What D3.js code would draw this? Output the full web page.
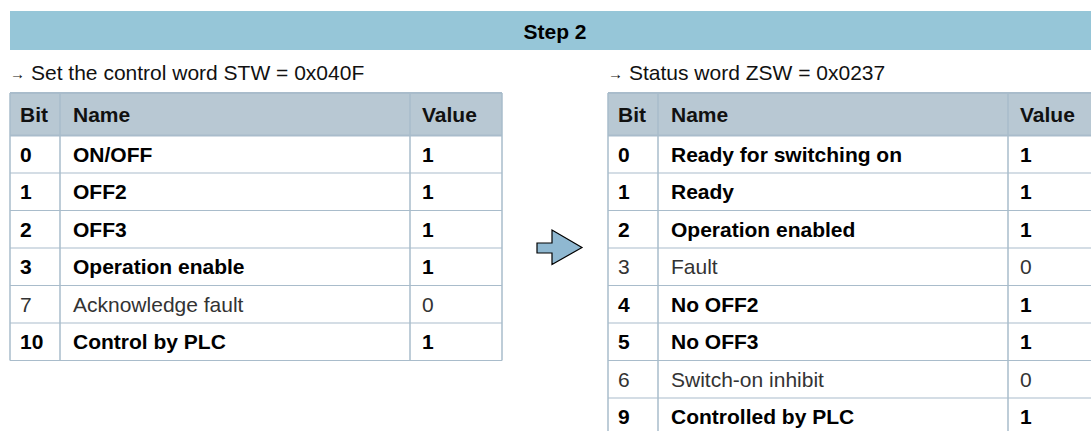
<!DOCTYPE html>
<html><head><meta charset="utf-8">
<script src="https://cdn.jsdelivr.net/npm/d3@7"></script>
<style>body{margin:0;background:#fff}svg{display:block}</style>
</head><body>
<svg id="c" width="1091" height="431"></svg>
<script>
const title = "Step 2";
const leftCaption = "Set the control word STW = 0x040F";
const rightCaption = "Status word ZSW = 0x0237";
const headers = ["Bit", "Name", "Value"];
const leftBits = ["0", "1", "2", "3", "7", "10"];
const leftNames = ["ON/OFF", "OFF2", "OFF3", "Operation enable", "Acknowledge fault", "Control by PLC"];
const leftValues = [1, 1, 1, 1, 0, 1];
const rightBits = ["0", "1", "2", "3", "4", "5", "6", "9"];
const rightNames = ["Ready for switching on", "Ready", "Operation enabled", "Fault", "No OFF2", "No OFF3", "Switch-on inhibit", "Controlled by PLC"];
const rightValues = [1, 1, 1, 0, 1, 1, 0, 1];

const svg = d3.select("#c");
const font = "'Liberation Sans', Arial, sans-serif";
const border = "#a9bccb";
const fs = 21;

// banner
svg.append("rect").attr("x", 10).attr("y", 11).attr("width", 1081).attr("height", 39).attr("fill", "#96c6d8");
svg.append("text").attr("x", 555).attr("y", 39).attr("text-anchor", "middle")
  .attr("font-family", font).attr("font-size", fs).attr("font-weight", "bold").attr("fill", "#000").text(title);

function drawTable(x0, colW, caption, bits, names, values) {
  const g = svg.append("g");
  const rowY = d3.scaleLinear().domain([0, 1]).range([135.5, 173]);
  const cols = [x0, x0 + colW[0], x0 + colW[0] + colW[1], x0 + colW[0] + colW[1] + colW[2]];
  const data = bits.map((b, i) => ({ bit: b, name: names[i], value: values[i], i }));
  g.append("text").attr("x", x0).attr("y", 79)
    .attr("font-family", font).attr("font-size", 15).attr("fill", "#111").text("\u2192");
  g.append("text").attr("x", x0 + 21).attr("y", 80)
    .attr("font-family", font).attr("font-size", fs).attr("fill", "#111").text(caption);
  // header
  g.append("rect").attr("x", x0).attr("y", 93).attr("width", cols[3] - x0).attr("height", 135.5 - 93)
    .attr("fill", "#b8c8d3");
  const offs = [10, 13, 12];
  headers.forEach((h, k) => {
    g.append("text").attr("x", cols[k] + offs[k]).attr("y", 114.5).attr("dominant-baseline", "central")
      .attr("font-family", font).attr("font-size", fs).attr("font-weight", "bold").attr("fill", "#111").text(h);
  });
  const rows = g.selectAll("g.row").data(data).join("g").attr("class", "row");
  rows.append("rect").attr("x", x0).attr("y", d => rowY(d.i)).attr("width", cols[3] - x0)
    .attr("height", rowY(1) - rowY(0)).attr("fill", "#fff");
  const fields = [d => d.bit, d => d.name, d => String(d.value)];
  fields.forEach((f, k) => {
    rows.append("text").attr("x", cols[k] + offs[k])
      .attr("y", d => rowY(d.i + 0.5)).attr("dominant-baseline", "central")
      .attr("font-family", font).attr("font-size", fs)
      .attr("font-weight", d => d.value === 1 ? "bold" : "normal")
      .attr("fill", d => d.value === 1 ? "#000" : "#333").text(f);
  });
  const bottom = rowY(data.length);
  const ys = [93, 135.5].concat(data.map(d => rowY(d.i + 1)));
  g.selectAll("line.h").data(ys).join("line").attr("x1", x0).attr("x2", cols[3]).attr("y1", d => d).attr("y2", d => d)
    .attr("stroke", border).attr("stroke-width", d => (d === 93 || d === 135.5) ? 2 : 1.2);
  g.selectAll("line.v").data(cols).join("line").attr("x1", d => d).attr("x2", d => d).attr("y1", 93).attr("y2", bottom)
    .attr("stroke", border).attr("stroke-width", 1.5);
}

drawTable(10, [50, 350, 92], leftCaption, leftBits, leftNames, leftValues);
drawTable(608, [50, 350, 100], rightCaption, rightBits, rightNames, rightValues);

// arrow
const arrow = d3.path();
arrow.moveTo(537, 243); arrow.lineTo(552, 243); arrow.lineTo(552, 230); arrow.lineTo(582, 247.5);
arrow.lineTo(552, 264.5); arrow.lineTo(552, 253); arrow.lineTo(537, 253); arrow.closePath();
svg.append("path").attr("d", arrow.toString()).attr("fill", "#8fb8d1").attr("stroke", "#000").attr("stroke-width", 1.2);
</script>
</body></html>
